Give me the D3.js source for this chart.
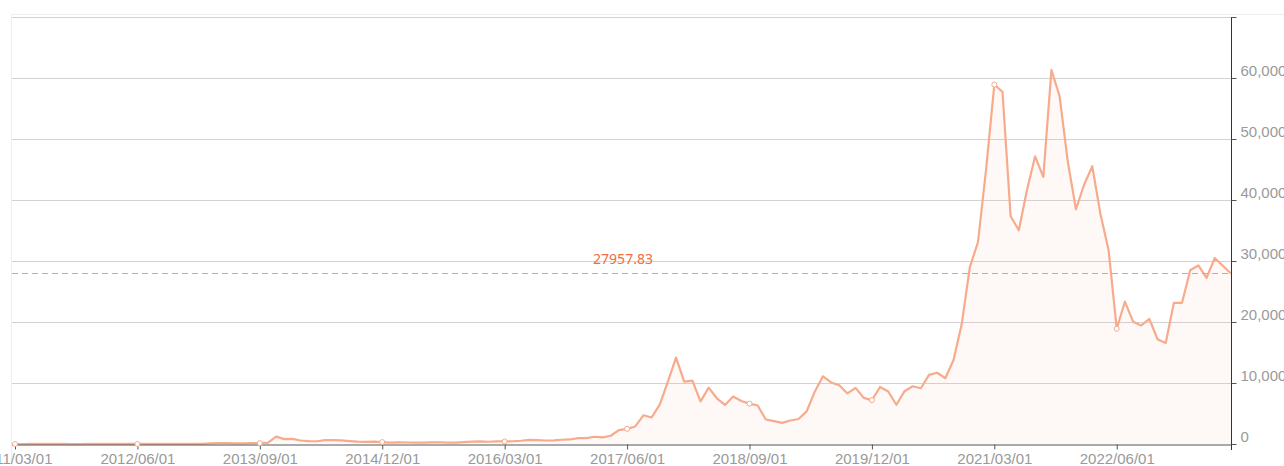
<!DOCTYPE html>
<html>
<head>
<meta charset="utf-8">
<script src="https://cdn.jsdelivr.net/npm/d3@7"></script>
<style>
  html, body { margin: 0; padding: 0; background: #fff; overflow: hidden; }
  svg { display: block; font-family: "Noto Sans", "DejaVu Sans", sans-serif; }
</style>
</head>
<body>
<svg id="chart" width="1284" height="466"></svg>
<script>
// monthly values, one per month starting 2011/03
const startYear = 2011
const startMonth = 3
const prices = [
  0.78, 3.5, 8.74, 16.1, 13.35, 8.19, 5.14, 3.25, 2.97, 4.72,
  5.48, 4.86, 4.86, 4.95, 5.16, 6.69, 9.35, 10.16, 12.4, 11.2, 12.56, 13.51,
  20.41, 33.38, 93.03, 139.23, 128.8, 97.51, 106.21, 141.0, 141.89, 211.17, 1205.66, 805.94,
  829.92, 573.88, 457.0, 448.32, 627.91, 639.8, 580.11, 480.91, 386.94, 338.32, 378.05, 320.19,
  217.46, 254.26, 244.22, 236.15, 230.19, 263.07, 284.65, 230.06, 236.06, 314.17, 377.32, 430.57,
  368.77, 437.7, 416.73, 448.32, 531.39, 673.34, 624.68, 575.47, 609.74, 698.65, 742.48, 963.74,
  970.4, 1190.45, 1079.11, 1348.3, 2286.41, 2480.84, 2875.34, 4703.39, 4338.71, 6468.4, 10233.6, 14156.4,
  10221.1, 10397.9, 6973.53, 9240.55, 7494.17, 6404.0, 7780.44, 7037.58, 6625.56, 6317.61, 4017.27, 3742.7,
  3457.79, 3854.79, 4105.4, 5350.73, 8574.5, 11100.0, 10085.63, 9630.66, 8293.87, 9199.58, 7569.63, 7193.6,
  9350.53, 8599.51, 6438.64, 8658.55, 9461.06, 9137.99, 11323.47, 11680.82, 10784.49, 13780.99, 19625.84, 29001.72,
  33114.36, 45137.77, 58918.83, 57750.18, 37332.85, 35040.84, 41626.2, 47166.69, 43790.9, 61318.96, 57005.43, 46306.45,
  38483.13, 42500.0, 45538.68, 37714.88, 31792.31, 18900.0, 23336.9, 20049.76, 19431.79, 20495.77, 17168.57, 16547.5,
  23139.28, 23147.35, 28478.48, 29268.81, 27219.66, 30477.25, 29230.11, 27957.83
]
const dates = prices.map((_, i) => {
  const m = startMonth - 1 + i
  const yr = startYear + Math.floor(m / 12)
  return `${yr}/${String(m % 12 + 1).padStart(2, "0")}/01`
})
const markValue = 27957.83
const yTicks = [0, 10000, 20000, 30000, 40000, 50000, 60000, 70000]
const labelEvery = 15

const svg = d3.select("#chart")
const m = { left: 15, right: 1231, top: 17, bottom: 444 }

const x = d3.scalePoint().domain(dates).range([m.left, m.right])
const y = d3.scaleLinear().domain([0, 70000]).range([m.bottom, m.top])

// faint panel border
svg.append("path")
  .attr("d", `M11.5,470 V14.5 H1290`)
  .attr("fill", "none")
  .attr("stroke", "#eeeeee")

// grid lines
svg.append("g")
  .selectAll("line")
  .data(yTicks.slice(1))
  .join("line")
  .attr("x1", m.left - 3).attr("x2", m.right)
  .attr("y1", d => Math.round(y(d)) + 0.5)
  .attr("y2", d => Math.round(y(d)) + 0.5)
  .attr("stroke", "#d2d2d2")

// area + line
const area = d3.area()
  .x((d, i) => x(dates[i]))
  .y0(y(0))
  .y1(d => y(d))
svg.append("path")
  .datum(prices)
  .attr("d", area)
  .attr("fill", "#f9b49a")
  .attr("fill-opacity", 0.09)

const line = d3.line()
  .x((d, i) => x(dates[i]))
  .y(d => y(d))
svg.append("path")
  .datum(prices)
  .attr("d", line)
  .attr("fill", "none")
  .attr("stroke", "#f7ab8c")
  .attr("stroke-width", 2.2)
  .attr("stroke-linejoin", "round")

// mark line
const markY = Math.round(y(markValue)) + 0.5
svg.append("line")
  .attr("x1", m.left - 3).attr("x2", m.right)
  .attr("y1", markY).attr("y2", markY)
  .attr("stroke", "#f49a76")
  .attr("stroke-width", 1)
  .attr("stroke-dasharray", "6,4")
svg.append("text")
  .attr("x", (m.left + m.right) / 2)
  .attr("y", markY - 13)
  .attr("text-anchor", "middle")
  .attr("dominant-baseline", "middle")
  .attr("fill", "#f26c3c")
  .style("font-size", "14px")
  .text(markValue.toFixed(2))

// x axis
const xAxis = d3.axisBottom(x)
  .tickValues(dates.filter((d, i) => i % labelEvery === 0))
  .tickSize(5)
  .tickSizeOuter(0)
  .tickFormat(d => d)
const gx = svg.append("g")
  .attr("transform", `translate(0,${m.bottom + 0.5})`)
  .call(xAxis)
gx.select(".domain").attr("stroke", "#555").attr("d", `M${m.left - 3},0.5H${m.right}`)
gx.selectAll(".tick line").attr("stroke", "#555")
gx.selectAll(".tick text")
  .attr("fill", "#999")
  .attr("y", 8)
  .attr("dy", "0.75em")
  .style("font-size", "15px")
  .attr("font-family", null)

// symbols on the labelled points
svg.append("g")
  .selectAll("circle")
  .data(prices.filter((d, i) => i % labelEvery === 0))
  .join("circle")
  .attr("cx", (d, i) => x(dates[i * labelEvery]))
  .attr("cy", d => y(d))
  .attr("r", 2.5)
  .attr("fill", "#fff")
  .attr("stroke", "#f7ab8c")
  .attr("stroke-width", 1)

// y axis on the right
const yAxis = d3.axisRight(y)
  .tickValues(yTicks)
  .tickSize(5)
  .tickSizeOuter(0)
  .tickFormat(d3.format(","))
const gy = svg.append("g")
  .attr("transform", `translate(${m.right + 0.5},0)`)
  .call(yAxis)
gy.select(".domain").attr("stroke", "#333").attr("d", `M0,${m.top}V${m.bottom + 6}`)
gy.selectAll(".tick line").attr("stroke", "#555")
gy.selectAll(".tick text")
  .attr("fill", "#9a9a9a")
  .attr("x", 9)
  .attr("dy", "-0.15em")
  .style("font-size", "15px")
  .attr("font-family", null)
gy.selectAll(".tick").filter(d => d === 70000).select("text").remove()
</script>
</body>
</html>
